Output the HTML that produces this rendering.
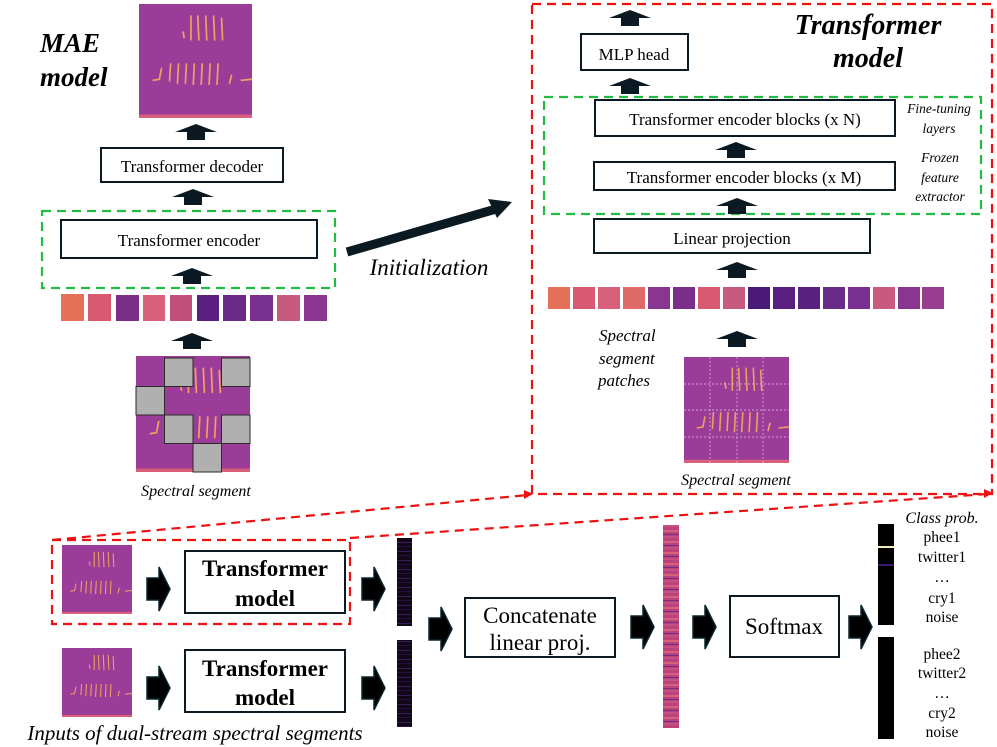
<!DOCTYPE html>
<html><head><meta charset="utf-8"><style>
html,body{margin:0;padding:0;background:#fff;}
svg{display:block;font-family:"Liberation Serif",serif;}
</style></head><body>
<svg width="997" height="747" viewBox="0 0 997 747" xmlns="http://www.w3.org/2000/svg">
<defs>
<pattern id="dark" width="12" height="9" patternUnits="userSpaceOnUse">
<rect width="16" height="9" fill="#120818"/><rect y="2" width="16" height="1" fill="#3a1a5a"/><rect y="6" width="16" height="1" fill="#26103e"/>
</pattern>
<pattern id="pink" width="16" height="11" patternUnits="userSpaceOnUse">
<rect width="16" height="11" fill="#b8447e"/><rect y="2" width="16" height="2" fill="#d8607a"/><rect y="6" width="16" height="1" fill="#7a2a82"/><rect y="8" width="16" height="2" fill="#c85080"/>
</pattern>
<g id="up"><polygon points="-21,8 0,0 21,8 9,8 9,16 -9,16 -9,8" fill="#0b1a22"/></g>
<g id="rt"><polygon points="0,-11 12,-11 12,-22 23,0 12,22 12,11 0,11" fill="#000" stroke="#0b2630" stroke-width="1.5"/></g>
<g id="spec">
<rect width="100" height="100" fill="#9a3c98"/>
<g stroke="#f0a060" stroke-width="1.5" fill="none">
<path d="M40 30 L39 24"/><path d="M46 32 L46 10"/><path d="M53 32 L52 10"/><path d="M60 32 L59 10"/><path d="M67 32 L66 10"/><path d="M74 32 L73 12"/>
<path d="M12 67 L18 66 L20 56"/><path d="M27 68 L28 52"/><path d="M34 70 L35 52"/><path d="M41 70 L42 52"/><path d="M48 71 L49 52"/><path d="M55 71 L56 52"/><path d="M62 71 L63 52"/><path d="M69 71 L70 52"/><path d="M80 70 L82 62"/><path d="M90 67 L100 66"/>
</g>
<rect y="97" width="100" height="3" fill="#d8607a"/>
</g>
</defs>

<text x="40" y="52" font-size="27" font-weight="bold" font-style="italic">MAE</text>
<text x="40" y="86" font-size="27" font-weight="bold" font-style="italic">model</text>
<use href="#spec" transform="translate(139,4) scale(1.13,1.14)"/>
<use href="#up" x="196" y="124"/>
<rect x="101" y="148" width="182" height="34" fill="#fff" stroke="#0b1a22" stroke-width="2"/>
<text x="192" y="172" font-size="17" text-anchor="middle">Transformer decoder</text>
<use href="#up" x="193" y="189"/>
<rect x="42" y="211" width="293" height="77" fill="none" stroke="#22bb44" stroke-width="2.2" stroke-dasharray="9,6"/>
<rect x="61" y="220" width="256" height="38" fill="#fff" stroke="#0b1a22" stroke-width="2"/>
<text x="189" y="246" font-size="17" text-anchor="middle">Transformer encoder</text>
<use href="#up" x="192" y="268"/>
<g>
<rect x="61" y="294" width="23" height="27" fill="#e4705a"/>
<rect x="88" y="294" width="23" height="27" fill="#d85a70"/>
<rect x="116" y="295" width="23" height="26" fill="#7a2e8a"/>
<rect x="143" y="295" width="22" height="26" fill="#d8607a"/>
<rect x="170" y="295" width="22" height="26" fill="#c0507a"/>
<rect x="197" y="295" width="22" height="26" fill="#5a1e80"/>
<rect x="223" y="295" width="23" height="26" fill="#6a2a88"/>
<rect x="250" y="295" width="23" height="26" fill="#7a3090"/>
<rect x="277" y="295" width="23" height="26" fill="#c85a80"/>
<rect x="304" y="295" width="23" height="26" fill="#8a3590"/>
</g>
<use href="#up" x="192" y="333"/>
<use href="#spec" transform="translate(136,356) scale(1.14,1.16)"/>
<g fill="#b0b0b0" stroke="#2a2a2a" stroke-width="1">
<rect x="164.5" y="358" width="28.5" height="28.5"/><rect x="221.5" y="358" width="28.5" height="28.5"/>
<rect x="136" y="386.5" width="28.5" height="28.5"/>
<rect x="164.5" y="415" width="28.5" height="28.5"/><rect x="221.5" y="415" width="28.5" height="28.5"/>
<rect x="193" y="443.5" width="28.5" height="28.5"/>
</g>
<text x="196" y="496" font-size="16" font-style="italic" text-anchor="middle">Spectral segment</text>

<line x1="347" y1="252" x2="496" y2="209" stroke="#0b1a22" stroke-width="9"/>
<polygon points="488,199 512,202 497,218" fill="#0b1a22"/>
<text x="429" y="275" font-size="23" font-style="italic" text-anchor="middle">Initialization</text>

<rect x="532" y="4" width="460" height="490" fill="none" stroke="#ee1111" stroke-width="2.2" stroke-dasharray="9,6"/>
<text x="868" y="34" font-size="28" font-weight="bold" font-style="italic" text-anchor="middle">Transformer</text>
<text x="868" y="67" font-size="28" font-weight="bold" font-style="italic" text-anchor="middle">model</text>
<use href="#up" x="630" y="10"/>
<rect x="581" y="34" width="107" height="36" fill="#fff" stroke="#0b1a22" stroke-width="2"/>
<text x="634" y="60" font-size="17" text-anchor="middle">MLP head</text>
<use href="#up" x="630" y="78"/>
<rect x="544" y="97" width="437" height="117" fill="none" stroke="#22bb44" stroke-width="2.2" stroke-dasharray="9,6"/>
<rect x="595" y="100" width="300" height="36" fill="#fff" stroke="#0b1a22" stroke-width="2"/>
<text x="745" y="125" font-size="17" text-anchor="middle">Transformer encoder blocks (x N)</text>
<use href="#up" x="736" y="142"/>
<rect x="594" y="162" width="301" height="28" fill="#fff" stroke="#0b1a22" stroke-width="2"/>
<text x="744" y="183" font-size="17" text-anchor="middle">Transformer encoder blocks (x M)</text>
<use href="#up" x="737" y="198"/>
<rect x="594" y="219" width="276" height="34" fill="#fff" stroke="#0b1a22" stroke-width="2"/>
<text x="732" y="244" font-size="17" text-anchor="middle">Linear projection</text>
<use href="#up" x="737" y="262"/>
<g font-size="13.5" font-style="italic" text-anchor="middle">
<text x="939" y="113">Fine-tuning</text><text x="939" y="133">layers</text>
<text x="940" y="162">Frozen</text><text x="940" y="182">feature</text><text x="940" y="201">extractor</text>
</g>
<g>
<rect x="548" y="287" width="22" height="22" fill="#e4705a"/>
<rect x="573" y="287" width="22" height="22" fill="#d85a70"/>
<rect x="598" y="287" width="22" height="22" fill="#d8607a"/>
<rect x="623" y="287" width="22" height="22" fill="#e06a68"/>
<rect x="648" y="287" width="22" height="22" fill="#8a3590"/>
<rect x="673" y="287" width="22" height="22" fill="#7a2e8a"/>
<rect x="698" y="287" width="22" height="22" fill="#d85a70"/>
<rect x="723" y="287" width="22" height="22" fill="#c85a80"/>
<rect x="748" y="287" width="22" height="22" fill="#4a1a78"/>
<rect x="773" y="287" width="22" height="22" fill="#5a1e80"/>
<rect x="798" y="287" width="22" height="22" fill="#5a2080"/>
<rect x="823" y="287" width="22" height="22" fill="#6a2a88"/>
<rect x="848" y="287" width="22" height="22" fill="#7a3090"/>
<rect x="873" y="287" width="22" height="22" fill="#c85a80"/>
<rect x="898" y="287" width="22" height="22" fill="#8a3590"/>
<rect x="922" y="287" width="22" height="22" fill="#9a3c90"/>
</g>
<use href="#up" x="737" y="331"/>
<g font-size="17" font-style="italic">
<text x="599" y="341">Spectral</text><text x="599" y="364">segment</text><text x="598" y="386">patches</text>
</g>
<use href="#spec" transform="translate(684,357) scale(1.05,1.06)"/>
<g stroke="#e0c0e0" stroke-width="0.7" stroke-dasharray="2,2"><line x1="710" y1="357" x2="710" y2="463"/><line x1="737" y1="357" x2="737" y2="463"/><line x1="763" y1="357" x2="763" y2="463"/><line x1="684" y1="384" x2="789" y2="384"/><line x1="684" y1="410" x2="789" y2="410"/><line x1="684" y1="437" x2="789" y2="437"/></g>
<text x="736" y="485" font-size="16" font-style="italic" text-anchor="middle">Spectral segment</text>

<g stroke="#ee1111" stroke-width="2.2" stroke-dasharray="9,6" fill="none">
<line x1="52" y1="540" x2="528" y2="495"/>
<line x1="350" y1="538" x2="988" y2="494"/>
<rect x="52" y="540" width="298" height="84"/>
</g>
<polygon points="524,490 533,494 524,499" fill="#ee1111"/>
<polygon points="984,489 993,493 984,498" fill="#ee1111"/>

<use href="#spec" transform="translate(62,545) scale(0.7,0.69)"/>
<use href="#spec" transform="translate(62,648) scale(0.7,0.69)"/>
<use href="#rt" x="147" y="589"/>
<use href="#rt" x="147" y="688"/>
<rect x="185" y="551" width="160" height="62" fill="#fff" stroke="#0b1a22" stroke-width="2"/>
<text x="265" y="576" font-size="23" font-weight="bold" text-anchor="middle">Transformer</text>
<text x="265" y="606" font-size="23" font-weight="bold" text-anchor="middle">model</text>
<rect x="185" y="650" width="160" height="62" fill="#fff" stroke="#0b1a22" stroke-width="2"/>
<text x="265" y="676" font-size="23" font-weight="bold" text-anchor="middle">Transformer</text>
<text x="265" y="705" font-size="23" font-weight="bold" text-anchor="middle">model</text>
<use href="#rt" x="362" y="589"/>
<use href="#rt" x="362" y="688"/>
<rect x="397" y="538" width="15" height="88" fill="url(#dark)"/>
<rect x="397" y="640" width="15" height="87" fill="url(#dark)"/>
<use href="#rt" x="429" y="629"/>
<rect x="465" y="598" width="150" height="59" fill="#fff" stroke="#0b1a22" stroke-width="2"/>
<text x="540" y="623" font-size="23" text-anchor="middle">Concatenate</text>
<text x="540" y="650" font-size="23" text-anchor="middle">linear proj.</text>
<use href="#rt" x="631" y="627"/>
<rect x="663" y="525" width="16" height="203" fill="url(#pink)"/>
<use href="#rt" x="693" y="627"/>
<rect x="730" y="596" width="109" height="61" fill="#fff" stroke="#0b1a22" stroke-width="2"/>
<text x="784" y="634" font-size="23" text-anchor="middle">Softmax</text>
<use href="#rt" x="849" y="627"/>
<rect x="878" y="524" width="16" height="101" fill="#000"/>
<rect x="878" y="546" width="16" height="2" fill="#f0f0b0"/>
<rect x="878" y="564" width="16" height="2" fill="#3a1a6a"/>
<rect x="878" y="637" width="16" height="102" fill="#000"/>
<text x="942" y="523" font-size="16" font-style="italic" text-anchor="middle">Class prob.</text>
<g font-size="15.5" text-anchor="middle">
<text x="942" y="542">phee1</text><text x="942" y="562">twitter1</text><text x="942" y="582">…</text><text x="942" y="603">cry1</text><text x="942" y="622">noise</text>
<text x="942" y="659">phee2</text><text x="942" y="678">twitter2</text><text x="942" y="698">…</text><text x="942" y="718">cry2</text><text x="942" y="737">noise</text>
</g>
<text x="195" y="740" font-size="21" font-style="italic" text-anchor="middle">Inputs of dual-stream spectral segments</text>
</svg>
</body></html>
